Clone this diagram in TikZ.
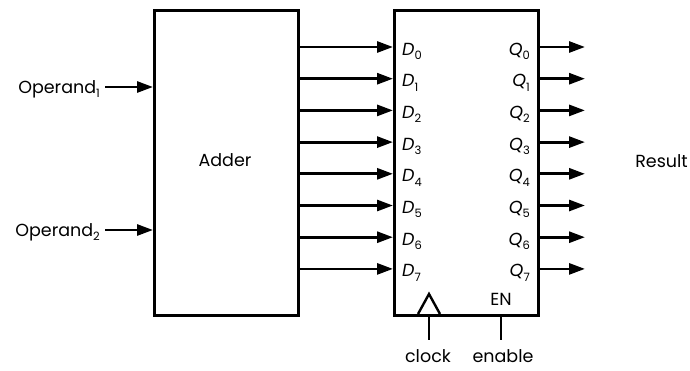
\documentclass[tikz,border=0pt]{standalone}
\usepackage{fontspec}
\setmainfont{Poppins}
\usetikzlibrary{arrows.meta}
\newcommand{\mysub}[1]{\raisebox{-0.45ex}{\fontsize{11.5}{12}\selectfont\upshape #1}}
\tikzset{
  blk/.style={draw, line width=2.8pt},
  wire/.style={line width=2.8pt, -{Triangle[length=16pt,width=11pt]}},
  plain/.style={line width=2.8pt},
  lbl/.style={inner sep=0pt, font=\fontsize{17.5}{20}\selectfont},
}
\begin{document}
\begin{tikzpicture}[x=1pt,y=-1pt]
\useasboundingbox (0,0) rectangle (690,370);
% boxes
\node[blk, minimum width=144pt, minimum height=305pt, anchor=north west, inner sep=0pt] (adder) at (153,9) {};
\node[lbl] (addertxt) at (225,160) {Adder};
\node[blk, minimum width=144pt, minimum height=305pt, anchor=north west, inner sep=0pt] (reg) at (393,9) {};
% operands
\node[lbl, anchor=base east] (op1) at (100,93) {Operand\mysub{1}};
\node[lbl, anchor=base east] (op2) at (100,236) {Operand\mysub{2}};
\coordinate (op1s) at (105,87);
\coordinate (op2s) at (105,230);
\draw[wire] (op1s) -- (op1s -| adder.west);
\draw[wire] (op2s) -- (op2s -| adder.west);
% data lines
\foreach \i in {0,...,7}{
  \pgfmathsetmacro{\yy}{47+31.7*\i}
  \coordinate (a\i) at (297,\yy);
  \node[lbl, anchor=base west] (d\i) at (402,\yy+8) {\itshape D\mysub{\i}};
  \node[lbl, anchor=base east] (q\i) at (530,\yy+8) {\itshape Q\mysub{\i}};
  \coordinate (o\i) at (585,\yy);
  \draw[wire] (a\i) -- (a\i -| reg.west);
  \draw[wire] (a\i -| reg.east) -- (o\i);
}
\node[lbl, anchor=base east] (result) at (688,167) {Result};
% clock and enable
\coordinate (ck) at (429,314);
\coordinate (ckl) at (418,314);
\coordinate (ckr) at (440,314);
\coordinate (cka) at (429,294);
\draw[line width=2.4pt, line join=miter] (ckl) -- (cka) -- (ckr);
\coordinate (ckb) at (429,340);
\draw[plain] (ck) -- (ckb);
\coordinate (en) at (501,314);
\coordinate (enb) at (501,340);
\draw[plain] (en) -- (enb);
\node[lbl, anchor=base] (entxt) at (501,305) {EN};
\node[lbl, anchor=base] (clk) at (428,362) {clock};
\node[lbl, anchor=base] (enable) at (503,362) {enable};
\end{tikzpicture}
\end{document}
